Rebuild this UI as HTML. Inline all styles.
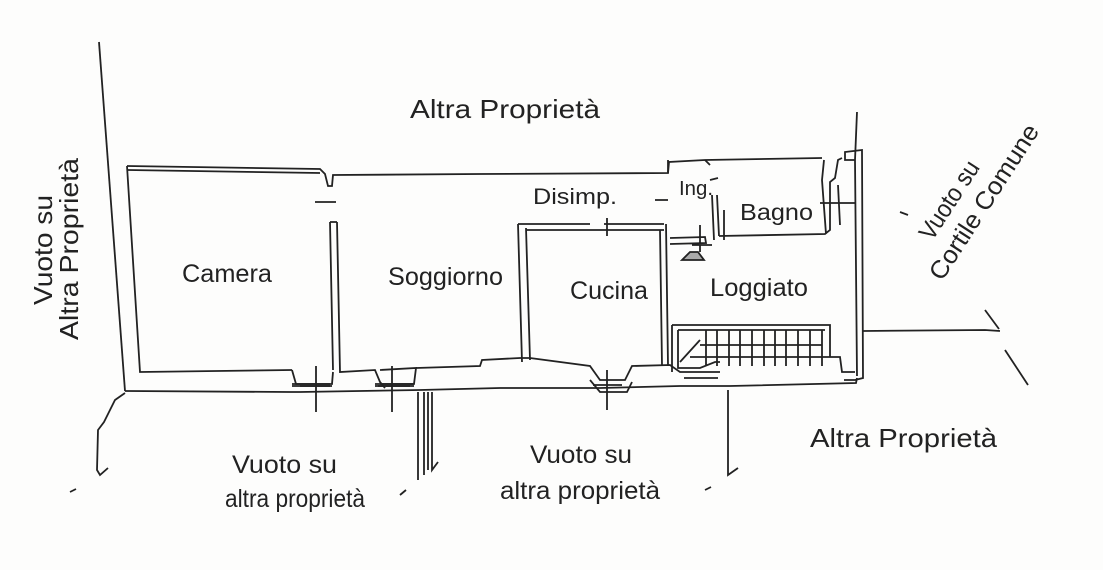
<!DOCTYPE html>
<html><head><meta charset="utf-8"><style>
html,body{margin:0;padding:0;background:#fdfdfc;}
svg{display:block}
text{font-family:"Liberation Sans",sans-serif;fill:#222;}
</style></head><body>
<svg width="1103" height="570" viewBox="0 0 1103 570" xmlns="http://www.w3.org/2000/svg">
<rect width="1103" height="570" fill="#fdfdfc"/>
<g fill="none" stroke="#222" stroke-width="1.8">
<path d="M99 42 L125 391"/>
<path d="M127 166 L140 372 L292 370"/>
<path d="M127 166 L320 169 L325 174 L328 186 L332 186 L333 175 L480 174 L668 173 L669 162 L705 160 L822 158"/>
<path d="M128 170 L320 173"/>
<path d="M315 202 L336 202"/>
<path d="M330 222 L333 370 M337 222 L340 372 L375 370 L380 382 L385 388 M330 222 L337 222"/>
<path d="M125 391 L290 392 L300 392 L420 390 L500 388 L600 388 L680 386 L730 386 L856 383 L857 378"/>
<path d="M292 370 L296 384 L332 384 L333 372 M380 370 L416 368 L414 384 L380 384"/>
<path d="M292 384 L330 384 M292 386 L332 386 M375 384 L414 384 M375 386 L414 386"/>
<path d="M416 368 L480 366 L482 360 L520 358 L530 358 L590 366 L600 380 L625 380 L632 366 L670 365 L680 372 L720 372"/>
<path d="M590 380 L600 392 L627 392 L632 382"/>
<path d="M316 366 L316 412 M300 386 L330 386 M392 366 L392 412 M378 386 L410 386 M607 370 L607 410 M593 385 L622 385"/>
<path d="M518 224 L522 362 M526 228 L530 360 M518 224 L590 224 M604 224 L664 224 M526 230 L664 230 M607 218 L607 236"/>
<path d="M660 230 L662 365 M666 224 L668 365"/>
<path d="M655 200 L668 200 M668 173 L668 160 M705 160 L710 165 M710 180 L718 178 M712 195 L714 240 M717 195 L719 236 M670 238 L705 237 L706 243 L670 244 M700 225 L700 252 M692 245 L712 245"/>
<path d="M719 236 L825 234 L830 230 L830 182 L835 178 L838 160 L842 158 M826 234 L822 180 L824 160"/>
<path d="M820 203 L856 203 M838 185 L840 225"/>
<path d="M682 260 L690 252 L698 252 L704 260 Z" fill="#aaa"/>
<path d="M724 210 L724 240"/>
<path d="M857 112 L855 160 L845 160 L845 152 L862 150 L863 378 L855 380 L844 380 M855 160 L857 376"/>
<path d="M672 325 L830 325 L830 357 M678 330 L678 368 L700 368 L715 362 L720 362 M678 330 L825 330 M690 357 L830 357 M700 340 L680 362 M706 330 L706 366 M717 330 L717 366 M729 330 L729 366 M740 330 L740 366 M752 330 L752 366 M764 330 L764 366 M775 330 L775 366 M786 330 L786 366 M798 330 L798 366 M810 330 L810 366 M822 330 L822 366 M700 345 L822 345"/>
<path d="M672 325 L672 372 M684 378 L718 378 M830 357 L840 357 L842 372 L855 372"/>
<path d="M863 331 L985 330 L1000 331 M985 310 L999 329 M1005 350 L1028 385"/>
<path d="M125 393 L115 400 L110 410 L104 422 L98 430 L97 470 L100 475 L108 468"/>
<path d="M418 392 L418 480 M424 392 L424 475 M428 392 L428 470 M432 392 L432 470 L438 462"/>
<path d="M728 390 L728 475 L738 468"/>
<path d="M70 492 L76 489 M400 495 L406 490 M705 490 L711 487 M900 212 L908 215"/>
</g>
<text x="410" y="118" font-size="26" textLength="190" lengthAdjust="spacingAndGlyphs">Altra Proprietà</text>
<text transform="translate(52,305) rotate(-90)" font-size="26" textLength="110" lengthAdjust="spacingAndGlyphs">Vuoto su</text>
<text transform="translate(78,340) rotate(-90)" font-size="26" textLength="182" lengthAdjust="spacingAndGlyphs">Altra Proprietà</text>
<text transform="translate(932,242) rotate(-57)" font-size="25" textLength="89" lengthAdjust="spacingAndGlyphs">Vuoto su</text>
<text transform="translate(942,282) rotate(-57)" font-size="25" textLength="180" lengthAdjust="spacingAndGlyphs">Cortile Comune</text>
<text x="810" y="447" font-size="26" textLength="187" lengthAdjust="spacingAndGlyphs">Altra Proprietà</text>
<text x="232" y="473" font-size="25" textLength="105" lengthAdjust="spacingAndGlyphs">Vuoto su</text>
<text x="225" y="507" font-size="25" textLength="140" lengthAdjust="spacingAndGlyphs">altra proprietà</text>
<text x="530" y="463" font-size="25" textLength="102" lengthAdjust="spacingAndGlyphs">Vuoto su</text>
<text x="500" y="499" font-size="25" textLength="160" lengthAdjust="spacingAndGlyphs">altra proprietà</text>
<text x="182" y="282" font-size="25" textLength="90" lengthAdjust="spacingAndGlyphs">Camera</text>
<text x="388" y="285" font-size="25" textLength="115" lengthAdjust="spacingAndGlyphs">Soggiorno</text>
<text x="570" y="299" font-size="25" textLength="78" lengthAdjust="spacingAndGlyphs">Cucina</text>
<text x="710" y="296" font-size="25" textLength="98" lengthAdjust="spacingAndGlyphs">Loggiato</text>
<text x="533" y="204" font-size="22" textLength="84" lengthAdjust="spacingAndGlyphs">Disimp.</text>
<text x="679" y="195" font-size="20" textLength="34" lengthAdjust="spacingAndGlyphs">Ing.</text>
<text x="740" y="220" font-size="23" textLength="73" lengthAdjust="spacingAndGlyphs">Bagno</text>
</svg>
</body></html>
